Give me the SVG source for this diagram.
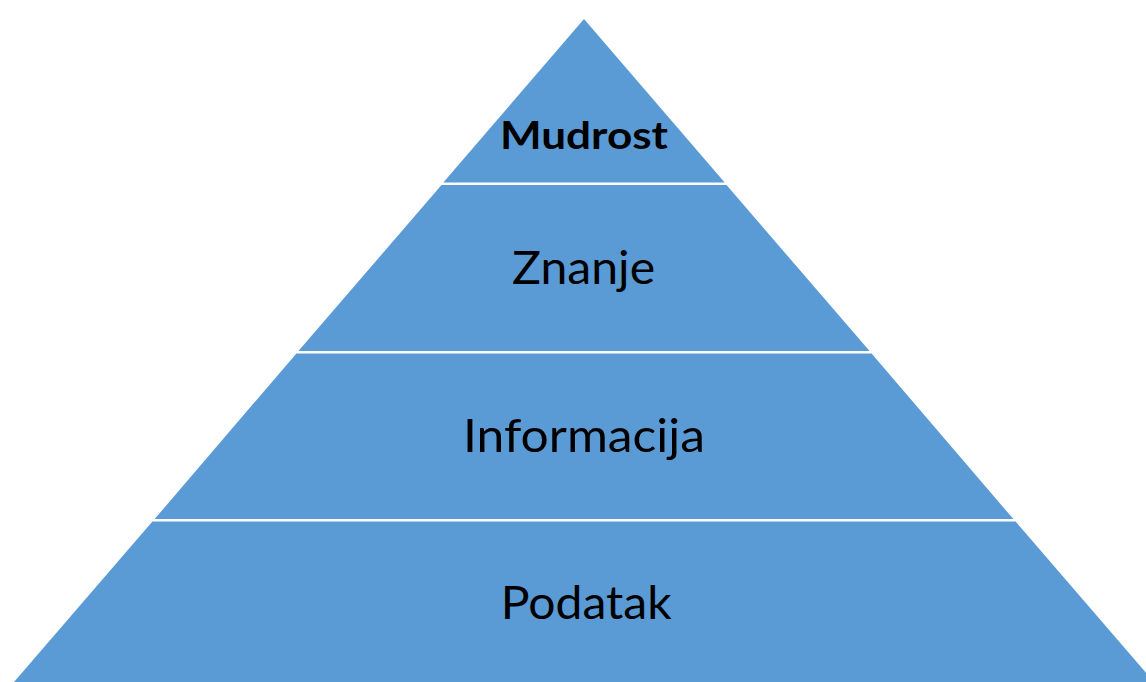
<svg xmlns="http://www.w3.org/2000/svg" width="1146" height="682" viewBox="0 0 1146 682">
<style>
.layer{fill:#5B9BD5;stroke:none}
.lbl{font-family:Lato,"Open Sans","Liberation Sans",sans-serif;fill:#000;text-anchor:middle}
.reg{font-size:47px;font-weight:400}
.bold{font-size:38.5px;font-weight:700}
</style>
<rect width="1146" height="682" fill="#fff"/>
<g id="mudrost">
<polygon class="layer" points="584,19 724.7,182.6 443.3,182.6"/>
<text class="lbl bold" x="584" y="149.3" textLength="168" lengthAdjust="spacingAndGlyphs">Mudrost</text>
</g>
<g id="znanje">
<polygon class="layer" points="441.5,185 726.5,185 869.6,351.1 298.4,351.1"/>
<text class="lbl reg" x="583.6" y="284.3" textLength="143" lengthAdjust="spacingAndGlyphs">Znanje</text>
</g>
<g id="informacija">
<polygon class="layer" points="296.4,353.4 871.6,353.4 1013.4,519.1 154.6,519.1"/>
<text class="lbl reg" x="584" y="451.8" textLength="242" lengthAdjust="spacingAndGlyphs">Informacija</text>
</g>
<g id="podatak">
<polygon class="layer" points="152.4,521.6 1015.6,521.6 1154,682 14,682"/>
<text class="lbl reg" x="586.2" y="619.3" textLength="171" lengthAdjust="spacingAndGlyphs">Podatak</text>
</g>
<g id="connectors"></g>
</svg>
